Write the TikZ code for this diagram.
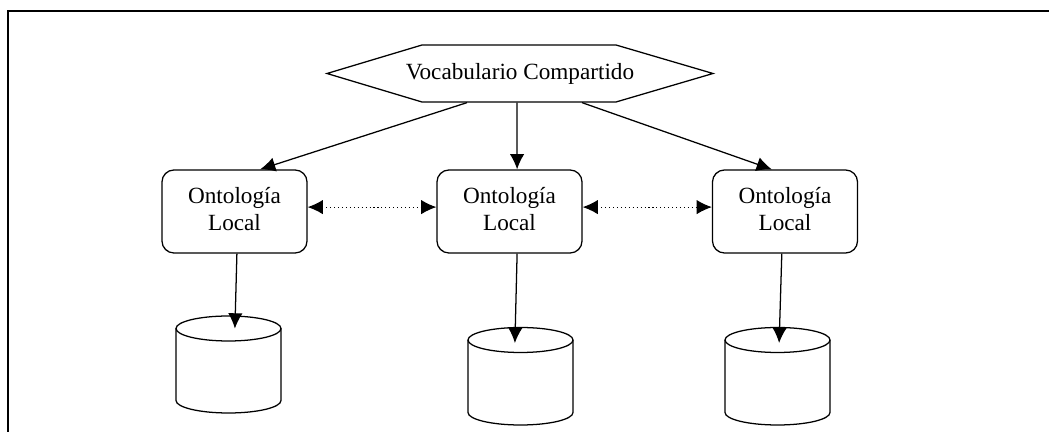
\documentclass[tikz,border=0pt]{standalone}
\usepackage{fontspec}
\setmainfont{Liberation Serif}
\usetikzlibrary{arrows.meta}

\begin{document}
\begin{tikzpicture}[x=0.025cm, y=0.025cm, line width=0.9pt,
		font=\fontsize{16.5}{19.2}\selectfont,
		flecha/.style={-{Latex[length=0.38cm, width=0.36cm]}},
		enlace/.style={{Latex[length=0.38cm, width=0.36cm]}-{Latex[length=0.38cm, width=0.36cm]}, dotted, line width=0.8pt},
		ontologia/.style={shape=rectangle, rounded corners=0.3cm, draw, minimum width=3.625cm, minimum height=2.075cm, inner sep=0pt}]

		\useasboundingbox (0,0) rectangle (1049,432);
		\draw (8,0) -- (8,421) -- (1049,421);

		\node (voc) at (520,358.5) [minimum height=1.425cm, inner sep=0pt] {Vocabulario Compartido};
		\draw (327,358.5) -- (422,387) -- (616,387) -- (713,358.5) -- (616,330) -- (422,330) -- cycle;

		\node (ol1) at (234.5,220.5) [ontologia] {\begin{tabular}{c} Ontología \\ Local\end{tabular}};
		\node (ol2) at (509.5,220.5) [ontologia] {\begin{tabular}{c} Ontología \\ Local\end{tabular}};
		\node (ol3) at (785,220.5) [ontologia] {\begin{tabular}{c} Ontología \\ Local\end{tabular}};

		% bases de datos
		\foreach \n/\cx/\yt/\yb in {1/228.5/103.5/31.5, 2/520.5/92/19.5, 3/777.5/92/19.5} {
			\draw (\cx-52.5,\yt) -- (\cx-52.5,\yb) arc[start angle=180, end angle=360, x radius=52.5, y radius=12.5] -- (\cx+52.5,\yt);
			\draw (\cx,\yt) ellipse [x radius=52.5, y radius=12.5];
			\coordinate (bd\n) at (\cx,\yt);
		}

		\draw[flecha] ([xshift=-1.325cm]voc.south) -- ([xshift=0.64cm]ol1.north);
		\draw[flecha] ([xshift=-0.075cm]voc.south) -- ([xshift=0.19cm]ol2.north);
		\draw[flecha] ([xshift=1.55cm]voc.south) -- ([xshift=-0.33cm]ol3.north);

		\draw[enlace] ([yshift=0.11cm]ol1.east) -- ([yshift=0.11cm]ol2.west);
		\draw[enlace] ([yshift=0.11cm]ol2.east) -- ([yshift=0.11cm]ol3.west);

		\draw[flecha] ([xshift=0.06cm]ol1.south) -- ([xshift=0.16cm]bd1);
		\draw[flecha] ([xshift=0.19cm]ol2.south) -- ([xshift=-0.14cm, yshift=-0.075cm]bd2);
		\draw[flecha] ([xshift=-0.08cm]ol3.south) -- ([xshift=0.04cm, yshift=-0.075cm]bd3);
	\end{tikzpicture}
\end{document}
